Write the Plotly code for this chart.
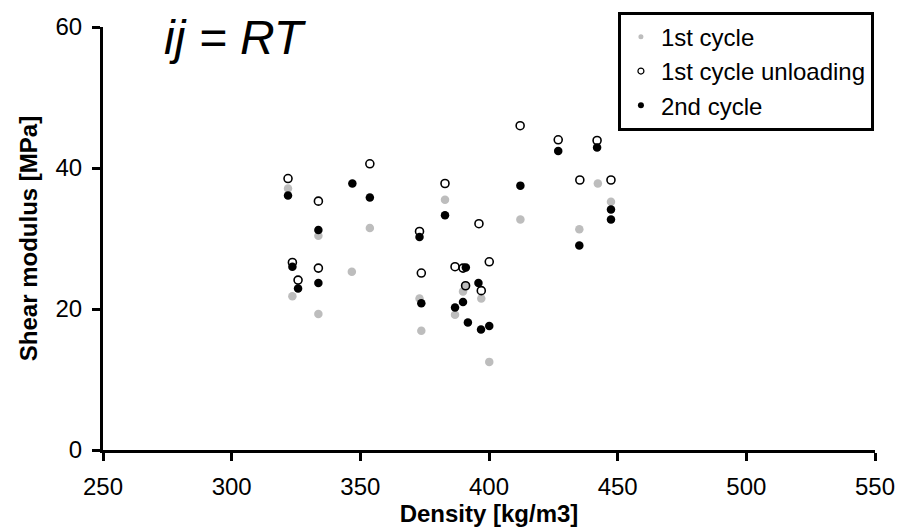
import plotly.graph_objects as go

# 1st cycle (gray filled)
c1_x = [321.9, 323.6, 333.7, 333.7, 346.7, 353.7, 373.0, 373.7, 382.9, 386.8,
        389.9, 390.9, 397.0, 400.1, 412.2, 435.1, 442.3, 447.4]
c1_y = [37.1, 21.8, 30.4, 19.3, 25.3, 31.5, 21.5, 16.9, 35.5, 19.2,
        22.5, 23.3, 21.5, 12.5, 32.7, 31.3, 37.8, 35.2]

# 1st cycle unloading (open)
un_x = [321.9, 323.6, 325.8, 333.7, 333.7, 353.7, 373.0, 373.7, 382.9, 386.8,
        389.9, 390.9, 396.1, 397.0, 400.1, 412.1, 426.9, 435.3, 442.0, 447.4]
un_y = [38.5, 26.6, 24.1, 35.3, 25.8, 40.6, 31.0, 25.1, 37.8, 26.0,
        25.8, 23.3, 32.1, 22.6, 26.7, 46.0, 44.0, 38.3, 43.9, 38.3]

# 2nd cycle (black filled)
c2_x = [321.9, 323.6, 325.8, 333.7, 333.7, 346.9, 353.7, 373.0, 373.7, 382.9,
        386.8, 389.9, 391.0, 391.8, 395.9, 396.9, 400.1, 412.2, 426.9, 435.1,
        442.0, 447.4, 447.4]
c2_y = [36.1, 26.0, 22.9, 31.2, 23.7, 37.8, 35.8, 30.2, 20.8, 33.3,
        20.2, 21.0, 25.9, 18.1, 23.7, 17.1, 17.6, 37.5, 42.4, 29.0,
        42.9, 34.1, 32.7]

names = ["1st cycle", "1st cycle unloading", "2nd cycle"]
x_ticks = [250, 300, 350, 400, 450, 500, 550]
y_ticks = [0, 20, 40, 60]

FONT = "Liberation Sans, Arial, sans-serif"
GRAY = "#bdbdbd"

fig = go.Figure()
fig.add_trace(go.Scatter(x=c1_x, y=c1_y, mode="markers", showlegend=False,
                         marker=dict(color=GRAY, size=8.5, line=dict(width=0))))
fig.add_trace(go.Scatter(x=un_x, y=un_y, mode="markers", showlegend=False,
                         marker=dict(symbol="circle-open", color="black", size=8,
                                     line=dict(width=1.6, color="black"))))
fig.add_trace(go.Scatter(x=c2_x, y=c2_y, mode="markers", showlegend=False,
                         marker=dict(color="black", size=8.5, line=dict(width=0))))

# legend entries (smaller symbols as in the reference legend)
fig.add_trace(go.Scatter(x=[None], y=[None], mode="markers", name=names[0],
                         marker=dict(color=GRAY, size=5)))
fig.add_trace(go.Scatter(x=[None], y=[None], mode="markers", name=names[1],
                         marker=dict(symbol="circle-open", color="black", size=6,
                                     line=dict(width=1.2, color="black"))))
fig.add_trace(go.Scatter(x=[None], y=[None], mode="markers", name=names[2],
                         marker=dict(color="black", size=6)))

fig.update_layout(
    width=897, height=529,
    margin=dict(l=103, r=22, t=23, b=79),
    paper_bgcolor="white", plot_bgcolor="white",
    font=dict(family=FONT, size=24, color="black"),
    showlegend=True,
    legend=dict(x=0.667, y=1.036, xanchor="left", yanchor="top",
                bordercolor="black", borderwidth=3, bgcolor="white",
                font=dict(family=FONT, size=24, color="black"),
                tracegroupgap=0),
    xaxis=dict(range=[250, 550], tickvals=x_ticks, ticktext=[str(v) for v in x_ticks],
               showgrid=False, zeroline=False, showline=True, linecolor="black",
               linewidth=3, ticks="outside", ticklen=8, tickwidth=3, tickcolor="black",
               tickfont=dict(family=FONT, size=24), ticklabelstandoff=5,
               automargin=False,
               title=dict(text="<b>Density [kg/m3]</b>", font=dict(family=FONT, size=24),
                          standoff=6)),
    yaxis=dict(range=[0, 60], tickvals=y_ticks, ticktext=[str(v) for v in y_ticks],
               showgrid=False, zeroline=False, showline=True, linecolor="black",
               linewidth=3, ticks="outside", ticklen=8, tickwidth=3, tickcolor="black",
               tickfont=dict(family=FONT, size=24), ticklabelstandoff=5,
               automargin=False,
               title=dict(text="<b>Shear modulus [MPa]</b>", font=dict(family=FONT, size=24),
                          standoff=12)),
    annotations=[dict(text="<i>ij = RT</i>", x=0.171, y=0.975, xref="paper", yref="paper",
                      xanchor="center", yanchor="middle", showarrow=False,
                      font=dict(family=FONT, size=48, color="black"))],
)

fig.write_html("out.html")
